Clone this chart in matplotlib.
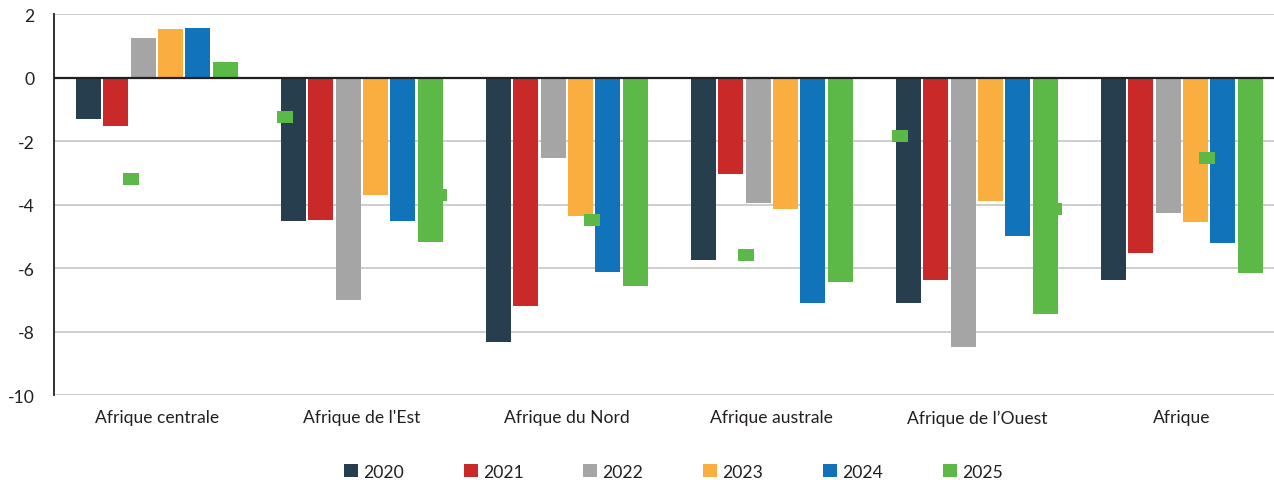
import matplotlib
matplotlib.use("Agg")
import matplotlib.pyplot as plt
import numpy as np
from matplotlib.path import Path

categories = ["Afrique centrale", "Afrique de l'Est", "Afrique du Nord",
              "Afrique australe", "Afrique de l\u2019Ouest", "Afrique"]
years = ["2020", "2021", "2022", "2023", "2024", "2025"]
v2020 = [-1.29, -4.53, -8.33, -5.75, -7.11, -6.38]
v2021 = [-1.51, -4.47, -7.20, -3.02, -6.38, -5.53]
v2022 = [1.25, -7.01, -2.52, -3.96, -8.49, -4.25]
v2023 = [1.53, -3.71, -4.37, -4.15, -3.90, -4.56]
v2024 = [1.56, -4.53, -6.13, -7.08, -5.00, -5.22]
v2025 = [0.49, -5.16, -6.56, -6.42, -7.45, -6.16]
marker_values = [-3.20, -1.25, -3.70, -4.49, -5.59, -1.84, -4.14, -2.54]
yticks = [2, 0, -2, -4, -6, -8, -10]

series = [v2020, v2021, v2022, v2023, v2024, v2025]
colors = ["#263e4d", "#c92a29", "#a5a5a5", "#fbae40", "#1174bb", "#5cb947"]

plt.rcParams['font.family'] = ['Lato', 'DejaVu Sans']
txt = "#231f20"
fs = 12.6

fig = plt.figure(figsize=(12.74, 4.81), dpi=100)
ax = fig.add_axes([54.3/1274, 1-396.3/481, 1230/1274, (396.3-15)/481])

x = np.arange(len(categories))
pitch = 0.1337
width = 0.122
for i, (vals, c, yr) in enumerate(zip(series, colors, years)):
    ax.bar(x + (i - 2.5) * pitch, vals, width=width, color=c, label=yr, zorder=2)

ax.set_xlim(-0.5, 5.5)
ax.set_ylim(-10, 2)
ax.set_yticks(yticks)
ax.set_yticklabels([str(t) for t in yticks])
ax.set_xticks(x)
ax.set_xticklabels(categories)
ax.tick_params(axis='both', length=0, labelsize=fs, colors=txt)
ax.tick_params(axis='y', pad=14)
ax.tick_params(axis='x', pad=10)
ax.yaxis.grid(True, color="#c6c6c6", lw=1.2, zorder=0)
ax.set_axisbelow(True)
for s in ["top", "right", "bottom"]:
    ax.spines[s].set_visible(False)
ax.spines["left"].set_color("#231f20")
ax.spines["left"].set_linewidth(1.3)
ax.axhline(0, color="#231f20", lw=1.6, zorder=3)

# secondary category axis for the marker series (8 categories)
ax2 = ax.twiny()
ax2.set_xlim(-0.5, len(marker_values) - 0.5)
ax2.set_ylim(ax.get_ylim())
rect = Path([(-1, -0.8125), (1, -0.8125), (1, 0.8125), (-1, 0.8125), (-1, -0.8125)],
            [Path.MOVETO, Path.LINETO, Path.LINETO, Path.LINETO, Path.CLOSEPOLY])
ax2.plot(np.arange(len(marker_values)), marker_values, linestyle="none",
         marker=rect, markersize=11.5, color="#5cb947", markeredgewidth=0, zorder=5)
ax2.axis("off")

leg = ax.legend(loc="center", bbox_to_anchor=(0.5 + 4/1230, (473.0-396.3)/-(396.3-15)), ncol=6,
                frameon=False, fontsize=fs, handlelength=0.8, handleheight=0.75,
                handletextpad=0.3, columnspacing=3.41, labelcolor=txt,
                borderpad=0.2)

fig.savefig("out.png", dpi=100)
